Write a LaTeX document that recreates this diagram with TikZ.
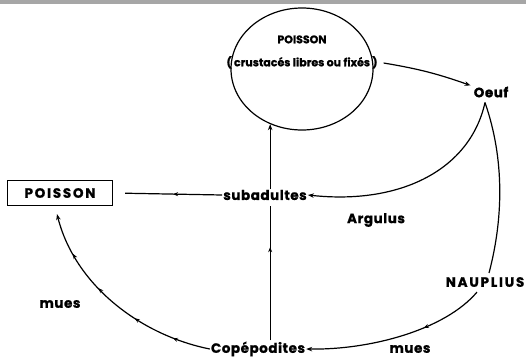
\documentclass[tikz,border=0pt]{standalone}
\usepackage{fontspec}
\setmainfont{Poppins}
\usetikzlibrary{shapes.geometric, arrows.meta, decorations.markings}

\begin{document}
\begin{tikzpicture}[
    x=1pt, y=-1pt,
    lbl/.style={font=\bfseries\fontsize{13.5}{15}\selectfont\addfontfeatures{LetterSpace=4, FakeBold=1}, inner sep=1pt},
    capslbl/.style={font=\bfseries\fontsize{13.5}{15}\selectfont\addfontfeatures{LetterSpace=13, FakeBold=1}, inner sep=1pt},
    hostlbl/.style={font=\bfseries\fontsize{11}{23}\selectfont\addfontfeatures{FakeBold=1}, inner sep=1pt, align=center},
    host/.style={ellipse, draw, line width=1.2pt, minimum width=142pt, minimum height=122pt},
    fishbox/.style={rectangle, draw, line width=1.2pt, minimum width=105pt, minimum height=25pt, inner sep=0pt},
    line/.style={line width=1.2pt},
    arrow/.style={line width=1.2pt, -{Stealth[length=6pt, width=4.5pt]}},
    midarrow/.style={postaction={decorate, decoration={markings, mark=at position #1 with {\arrow{Stealth[length=5pt, width=4pt]}}}}}
]
\useasboundingbox (0,0) rectangle (526,361);
% scan band along the top
\fill[black!35] (0,0) rectangle (526,4);

% Host fish (ellipse, top centre)
\node[host] (fishA) at (302,69) {};
\node[hostlbl] (fishAtxt) at (302,52) {POISSON\\( crustacés libres ou fixés )};

% Stages
\node[lbl] (oeuf) at (491,92) {Oeuf};
\node[lbl] (subad) at (265,195) {subadultes};
\node[capslbl] (naup) at (485,282) {NAUPLIUS};
\node[lbl] (copep) at (258,349) {Copépodites};

% Final fish (box, left)
\node[fishbox, capslbl] (fishB) at (60,193) {POISSON};

% Labels
\node[lbl] (argulus) at (376,220) {Argulus};
\node[lbl] (muesA) at (60,304) {mues};
\node[lbl] (muesB) at (410,349) {mues};

\coordinate (apex) at ([xshift=-6pt, yshift=-4pt]oeuf.south);
\coordinate (hostfoot) at (fishA.240.6);

% === Arrows ===
% fish -> egg
\draw[arrow] ([xshift=10pt, yshift=6pt]fishA.east) to[bend left=5] ([xshift=-2pt]oeuf.north west);

% egg -> subadultes (Argulus) and egg -> nauplius
\draw[arrow] (apex) .. controls (470,170) and (400,205) .. (subad.east);
\draw[line] (apex) .. controls (505,160) and (503,220) .. ([xshift=4pt, yshift=3pt]naup.north);

% nauplius -> copepodites
\draw[arrow, midarrow=0.35] ([xshift=-8pt, yshift=-4pt]naup.south) .. controls (445,330) and (370,350) .. (copep.east);

% copepodites -> box (mues)
\draw[arrow, midarrow=0.18, midarrow=0.38, midarrow=0.6, midarrow=0.8] (copep.west) .. controls (140,335) and (75,285) .. ([xshift=-3pt, yshift=-8pt]fishB.south);

% copepodites -> subadultes -> host fish
\draw[line, midarrow=0.67, shorten >=5pt] (copep.north -| hostfoot) -- (subad.south -| hostfoot);
\draw[arrow] (subad.north -| hostfoot) -- (hostfoot);

% subadultes -> box
\draw[line, midarrow=0.45, shorten >=12pt] (subad.west) -- (fishB.east);
\end{tikzpicture}
\end{document}
